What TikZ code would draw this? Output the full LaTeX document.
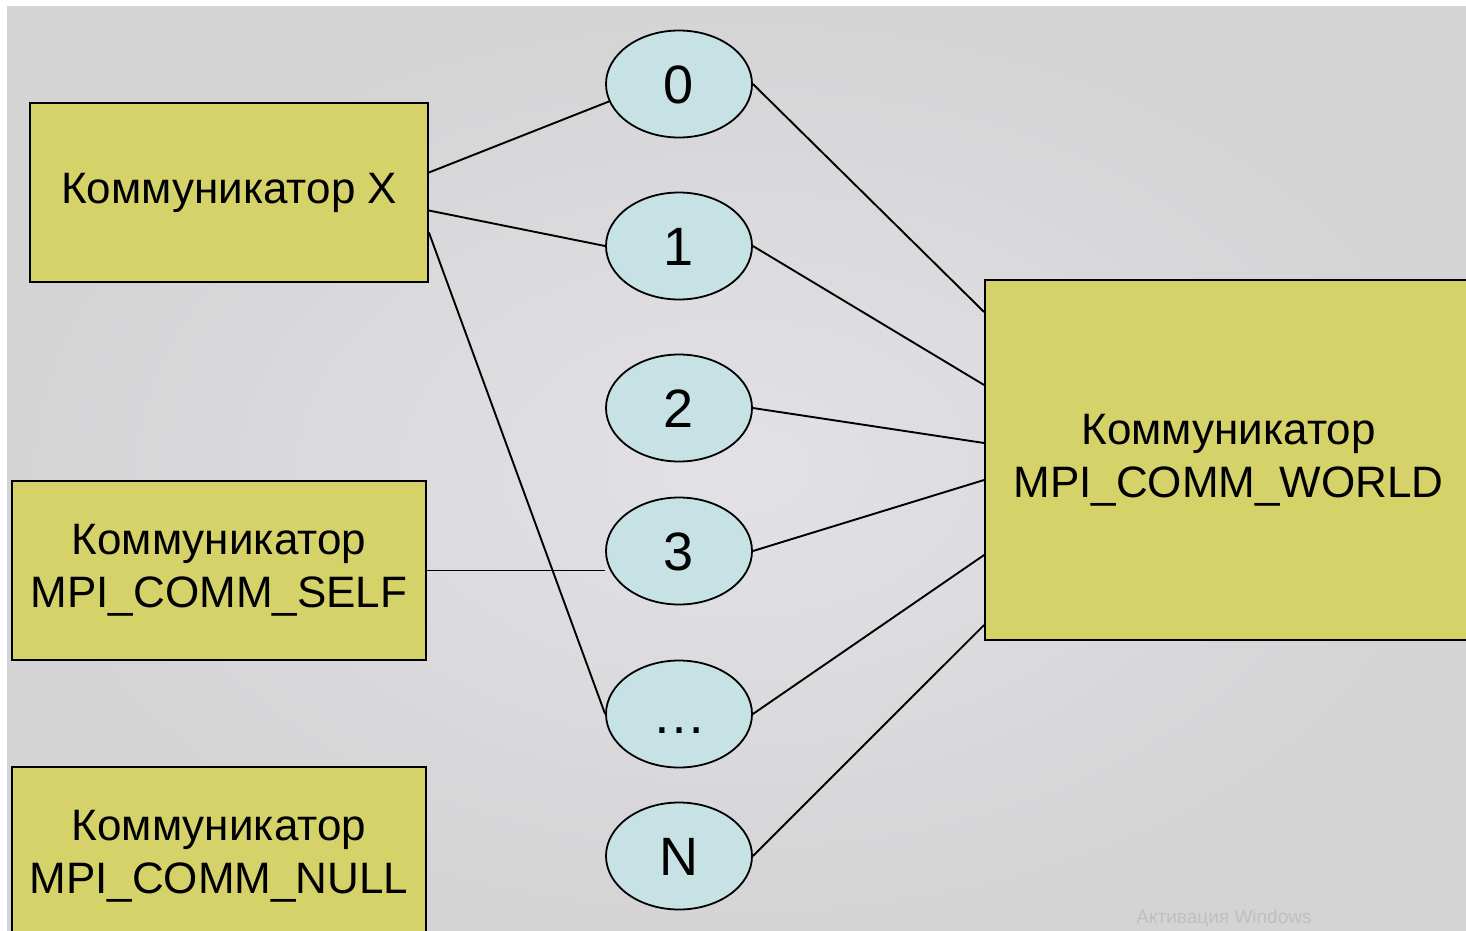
\documentclass[tikz,border=0pt]{standalone}
\usepackage{fontspec}
\setmainfont{Liberation Sans}
\usetikzlibrary{shapes}
\definecolor{slidegray}{RGB}{226,225,230}
\definecolor{slideedge}{RGB}{212,212,213}
\definecolor{commfill}{RGB}{213,210,105}
\definecolor{rankfill}{RGB}{198,226,228}
\newcommand\commfont{\fontsize{44}{53}\selectfont}
\newcommand\rankfont{\fontsize{54}{60}\selectfont}
\tikzstyle{comm}=[draw,line width=1.8pt,fill=commfill,inner sep=0pt,align=center,font=\commfont]
\tikzstyle{rank}=[ellipse,draw,line width=1.8pt,fill=rankfill,minimum width=146pt,minimum height=107pt,inner sep=0pt,text height=39pt,text depth=0pt,font=\rankfont]
\tikzstyle{edge} = [draw,line width=1.9pt,-]

\begin{document}
\begin{tikzpicture}[x=1pt,y=-1pt]
    \useasboundingbox (0,0) rectangle (1466,930);
    \clip (0,0) rectangle (1466,930);
    % Slide background
    \fill[white] (0,0) rectangle (1466,930);
    \shade[inner color=slidegray,outer color=slideedge] (7,6) rectangle (1466,930);
    % First we draw the communicators
    \node[comm,minimum width=398pt,minimum height=179pt] (commX) at (229,192.5) {Коммуникатор X};
    \node[comm,minimum width=414pt,minimum height=179pt] (commSelf) at (219,570.5) {Коммуникатор\\MPI\_COMM\_SELF};
    \node[comm,minimum width=414pt,minimum height=178pt] (commNull) at (219,856) {Коммуникатор\\MPI\_COMM\_NULL};
    \node[comm,minimum width=487pt,minimum height=360pt] (commWorld) at (1228.5,460) {Коммуникатор\\MPI\_COMM\_WORLD};
    % Then the process ranks
    \foreach \pos/\name/\lbl in {{(679,84)/r0/0}, {(679,246)/r1/1}, {(679,408)/r2/2}, {(679,551)/r3/3}, {(679,714)/rdots/{\ldots}}, {(679,856)/rN/N}}
        \node[rank] (\name) at \pos {\lbl};
    % Connect ranks with communicators
    \foreach \dy/\dest in {20/r0.194, -18/r1.west, -40/rdots.west}
        \path[edge] ([yshift=\dy pt]commX.east) -- (\dest);
    \path[edge] (commSelf.east) -- (commSelf.east -| r3.west);
    \foreach \source/\dy in {r0/148, r1/75, r2/17, r3/-20, rdots/-95, rN/-165}
        \path[edge] (\source.east) -- ([yshift=\dy pt]commWorld.west);
    % Watermark
    \node[text=black!25,font=\fontsize{19}{22}\selectfont] (wmark) at (1224,918) {Активация Windows};
\end{tikzpicture}
\end{document}
